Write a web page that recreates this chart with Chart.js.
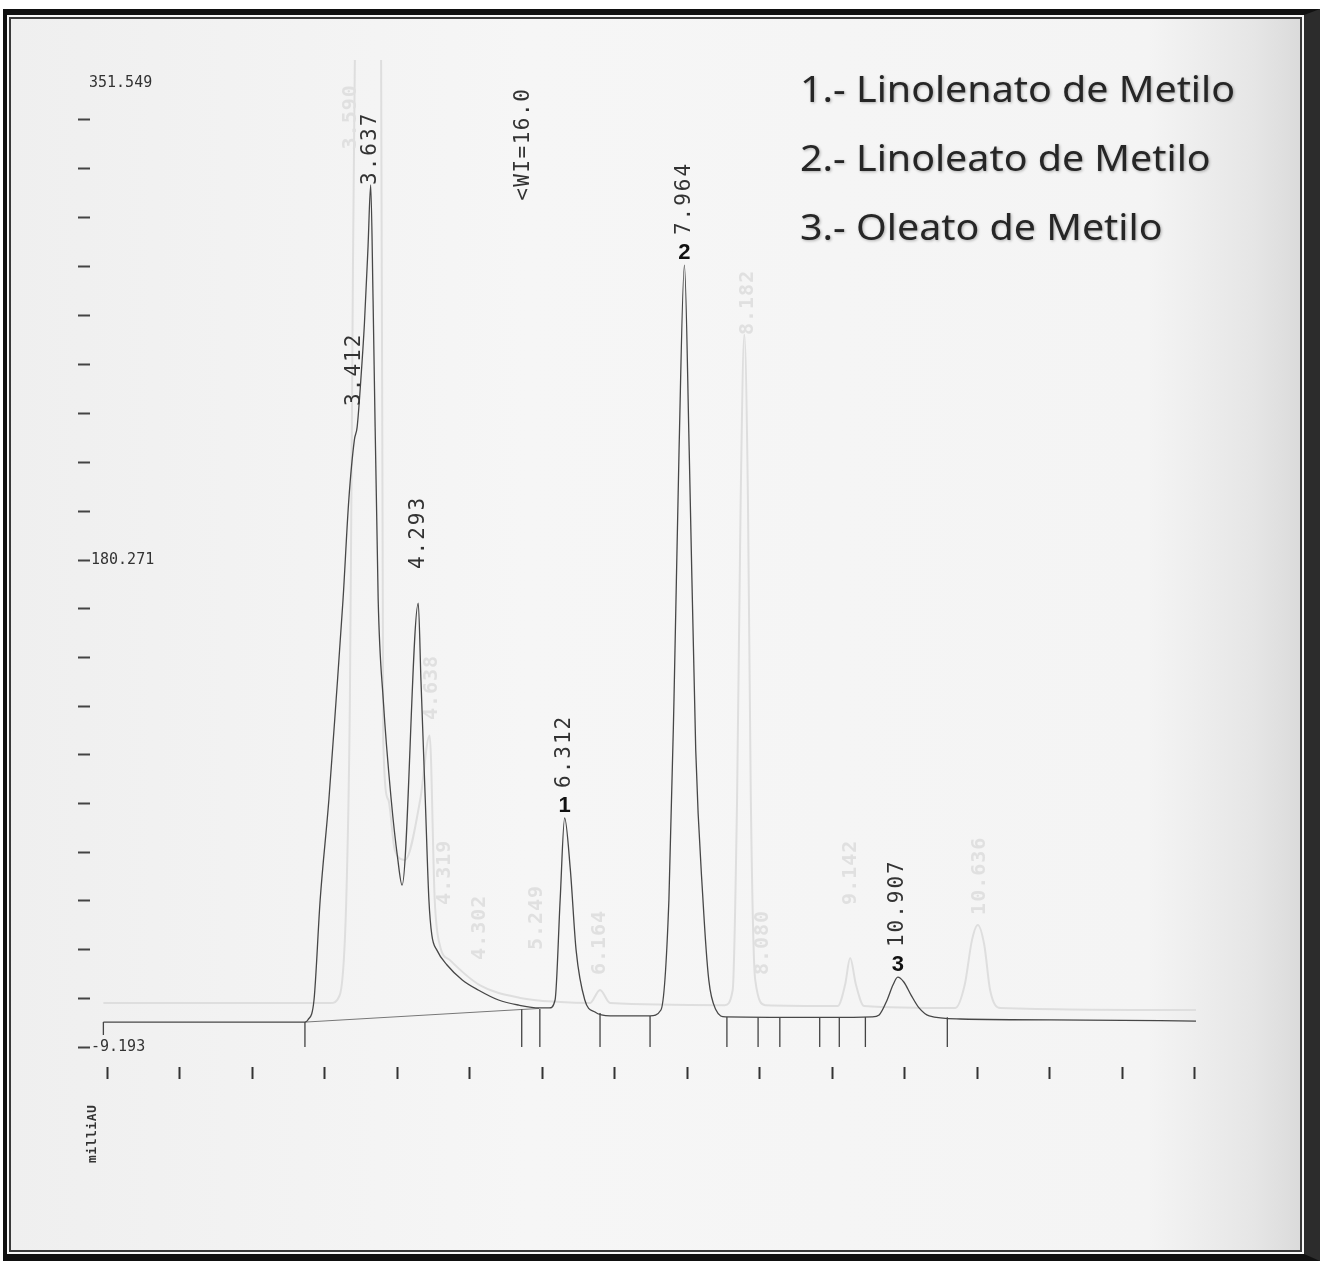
<!DOCTYPE html>
<html>
<head>
<meta charset="utf-8">
<title>Cromatograma - ésteres metílicos</title>
<script src="https://cdn.jsdelivr.net/npm/chart.js@4.4.1/dist/chart.umd.min.js"></script>
<style>
html,body{margin:0;padding:0;background:#fff;width:1321px;height:1263px;overflow:hidden}
#frame{position:absolute;left:3px;top:9px;width:1317px;height:1252px;box-sizing:border-box;
  border:solid #111;border-width:6px 16px 7px 4px;border-right-color:#2c2c2c;
  background:linear-gradient(to right,#efefef 0%,#f6f6f6 40%,#f4f4f4 88%,#e6e6e6 96%,#dadada 100%);
  box-shadow:inset 0 0 0 2px #f8f8f8, inset 0 0 0 4px #3a3a3a}
#c{position:absolute;left:0;top:0}
</style>
</head>
<body>
<div id="frame"></div>
<canvas id="c" width="1321" height="1263"></canvas>
<script>
// time axis in minutes, response in milliAU
const xTicks = [0,1,2,3,4,5,6,7,8,9,10,11,12,13,14,15];
const yTicks = [-9.193, 9.753, 28.700, 47.646, 66.593, 85.539, 104.485, 123.432, 142.378, 161.325,
                180.271, 199.302, 218.333, 237.364, 256.395, 275.426, 294.456, 313.487, 332.518, 351.549];
const yLabeled = [-9.193, 180.271];
const yTop = 351.549;

// main trace
const traceTimes = [-0.05, 2.73, 2.77, 2.855, 2.94, 3.06, 3.16, 3.255, 3.335, 3.412, 3.45, 3.50, 3.55, 3.60, 3.637,
  3.67, 3.74, 3.81, 3.92, 4.01, 4.07, 4.293, 4.33, 4.39, 4.44, 4.48, 4.55, 4.69, 4.90, 5.12, 5.40, 5.68, 5.96,
  6.10, 6.18, 6.25, 6.312, 6.39, 6.47, 6.59, 6.73, 6.94, 7.49, 7.64, 7.75, 7.82, 7.89, 7.964, 8.03, 8.12, 8.22,
  8.30, 8.40, 8.53, 10.0, 10.55, 10.65, 10.76, 10.84, 10.907, 10.99, 11.09, 11.20, 11.34, 11.77, 13.5, 15.02];
const traceLevels = [0.5, 0.5, 1.3, 9.1, 48.0, 86.9, 125.8, 164.7, 203.6, 227.0, 232, 250, 272, 302, 326.2,
  281, 165, 126, 87, 64, 53.8, 163.5, 133.6, 86.9, 48.0, 34.4, 28.5, 22.7, 16.9, 13.0, 9.1, 7.1, 6.0,
  6.0, 9.1, 48.0, 79.9, 60.0, 28.5, 9.1, 4.4, 2.9, 2.9, 5.2, 48.0, 125.8, 223.0, 295.0, 223.0, 106.4, 48.0,
  16.9, 5.2, 2.5, 2.3, 2.5, 3.3, 9.1, 14.9, 18.0, 16.1, 11.0, 6.0, 2.9, 1.7, 1.3, 0.9];

// faint second run showing through the paper
const ghostTimes = [-0.05, 3.08, 3.21, 3.30, 3.35, 3.38, 3.42, 3.60, 3.78, 3.81, 3.88, 3.97, 4.11, 4.32, 4.45,
  4.52, 4.59, 4.73, 5.14, 5.70, 6.25, 6.66, 6.80, 6.94, 8.52, 8.63, 8.69, 8.74, 8.79, 8.84, 8.88, 8.94, 9.08,
  10.08, 10.18, 10.25, 10.33, 10.44, 11.70, 11.83, 11.93, 12.01, 12.10, 12.18, 12.32, 15.02];
const ghostLevels = [7.9, 7.9, 11, 48, 126, 242, 380, 390, 380, 110, 87, 67.4, 63.6, 87, 112,
  48, 30.5, 24.6, 14.9, 9.9, 8.3, 7.9, 13, 7.9, 7.1, 13, 87, 204, 268, 204, 87, 17, 7.1,
  6.8, 15, 25.4, 15, 6.8, 6.0, 15, 32.4, 38.3, 30.5, 13, 6.0, 5.2];
const ghostTags = ['3.590', '4.638', '4.319', '4.302', '5.249', '6.164', '8.182', '8.080', '9.142', '10.636'];
const ghostTagTimes = [3.36, 4.48, 4.66, 5.14, 5.93, 6.80, 8.84, 9.05, 10.26, 12.04];
const ghostTagLevels = [340, 118, 46.1, 24.7, 28.5, 18.8, 267.8, 18.8, 46.1, 42.2];

// integrator baseline and peak start/stop events
const baseTimes = [2.73, 5.96];
const baseLevels = [0.5, 5.8];
const eventTimes = [-0.05, 2.73, 5.72, 5.97, 6.80, 7.49, 8.55, 8.98, 9.28, 9.83, 10.10, 10.46, 11.59];
const eventTops = [0.5, 0.5, 5.5, 5.6, 4.0, 2.9, 2.5, 2.4, 2.3, 2.3, 2.3, 2.5, 2.4];
const eventBottoms = [-4.5, -9.2, -9.2, -9.2, -9.2, -9.2, -9.2, -9.2, -9.2, -9.2, -9.2, -9.2, -9.2];

// integrated peaks
const peakTimes = [3.412, 3.637, 4.293, 6.312, 7.964, 10.907];
const peakLevels = [227.0, 326.2, 163.5, 79.9, 295.0, 18.0];
const peakNums = ['', '', '', '1', '2', '3'];
const wiTime = 5.74, wiLevel = 320, wiText = '<WI=16.0';

const legendLines = ['1.- Linolenato de Metilo', '2.- Linoleato de Metilo', '3.- Oleato de Metilo'];

const pts = (xs, ys) => xs.map((t, i) => ({x: t, y: ys[i]}));
const markerPts = [];
eventTimes.forEach((t, i) => {
  markerPts.push({x: t, y: eventTops[i]}, {x: t, y: eventBottoms[i]}, {x: t, y: null});
});

const MONO = '"DejaVu Sans Mono", monospace';

function upText(ctx, s, px, py, spacing){
  ctx.save();
  ctx.translate(px, py);
  ctx.rotate(-Math.PI / 2);
  ctx.letterSpacing = spacing + 'px';
  ctx.textAlign = 'left';
  ctx.textBaseline = 'middle';
  ctx.fillText(s, 0, 0);
  ctx.restore();
}

const textLayer = {
  id: 'textLayer',
  afterDatasetsDraw(chart){
    const {ctx, scales: {x, y}} = chart;
    ctx.save();

    // labels of the faint run
    ctx.fillStyle = '#e0e0e0';
    ctx.font = 'bold 20px ' + MONO;
    ghostTags.forEach((s, i) => upText(ctx, s, x.getPixelForValue(ghostTagTimes[i]), y.getPixelForValue(ghostTagLevels[i]), 1));

    // retention times over the peaks
    ctx.fillStyle = '#333';
    peakTimes.forEach((t, i) => {
      const px = x.getPixelForValue(t), py = y.getPixelForValue(peakLevels[i]);
      const gap = peakNums[i] ? 30 : (i === 1 ? 0 : 34);
      ctx.font = '21px ' + MONO;
      upText(ctx, t.toFixed(3), px, py - gap, 2);
      if (peakNums[i]){
        ctx.font = 'bold 22px "Liberation Sans", Arial, sans-serif';
        ctx.textAlign = 'center';
        ctx.textBaseline = 'alphabetic';
        ctx.fillStyle = '#111';
        ctx.fillText(peakNums[i], px, py - 6);
        ctx.fillStyle = '#333';
      }
    });
    ctx.font = '21px ' + MONO;
    upText(ctx, wiText, x.getPixelForValue(wiTime), y.getPixelForValue(wiLevel), 1.5);

    // top of the response scale and unit
    ctx.font = '15px ' + MONO;
    ctx.fillStyle = '#333';
    ctx.textAlign = 'left';
    ctx.textBaseline = 'middle';
    ctx.fillText(yTop.toFixed(3), x.left - 1, y.getPixelForValue(yTop) - 37);
    ctx.font = 'bold 13px ' + MONO;
    upText(ctx, 'milliAU', x.left + 3, 1163, 0.5);

    // compound key
    ctx.font = '37px "Noto Sans", sans-serif';
    ctx.textAlign = 'left';
    ctx.textBaseline = 'alphabetic';
    const sx = 435 / ctx.measureText(legendLines[0]).width;
    legendLines.forEach((s, i) => {
      ctx.save();
      ctx.translate(800, 102 + i * 69);
      ctx.scale(sx, 1);
      ctx.shadowColor = 'rgba(0,0,0,0.3)';
      ctx.shadowBlur = 3;
      ctx.shadowOffsetX = 1;
      ctx.shadowOffsetY = 1;
      ctx.fillStyle = '#262626';
      ctx.fillText(s, 0, 0);
      ctx.restore();
    });
    ctx.restore();
  }
};

new Chart(document.getElementById('c'), {
  type: 'line',
  data: {
    datasets: [
      {data: pts(traceTimes, traceLevels), borderColor: '#474747', borderWidth: 1.3, cubicInterpolationMode: 'monotone'},
      {data: markerPts, borderColor: '#444', borderWidth: 1.3, spanGaps: false},
      {data: pts(baseTimes, baseLevels), borderColor: '#777', borderWidth: 1},
      {data: pts(ghostTimes, ghostLevels), borderColor: '#dedede', borderWidth: 2, cubicInterpolationMode: 'monotone'}
    ]
  },
  options: {
    responsive: false,
    animation: false,
    events: [],
    layout: {padding: {left: 0, top: 60, right: 125, bottom: 184}},
    elements: {point: {radius: 0}, line: {tension: 0}},
    plugins: {legend: {display: false}, tooltip: {enabled: false}},
    scales: {
      x: {
        type: 'linear',
        min: -0.2345,
        max: 15.02,
        afterBuildTicks: s => { s.ticks = xTicks.map(v => ({value: v})); },
        afterFit: s => { s.height = 12; },
        ticks: {display: false},
        border: {display: false},
        grid: {drawOnChartArea: false, drawTicks: true, tickLength: 12, tickColor: '#333', tickWidth: 2}
      },
      y: {
        type: 'linear',
        min: -16.97,
        max: 374.8,
        afterBuildTicks: s => { s.ticks = yTicks.map(v => ({value: v})); },
        afterFit: s => { s.width = 90; },
        ticks: {
          mirror: true,
          padding: 1,
          autoSkip: false,
          color: '#333',
          font: {family: 'DejaVu Sans Mono', size: 15},
          callback: v => yLabeled.some(l => Math.abs(l - v) < 1e-6) ? v.toFixed(3) : ''
        },
        border: {display: false},
        grid: {drawOnChartArea: false, drawTicks: true, tickLength: 12, tickColor: '#444', tickWidth: 2}
      }
    }
  },
  plugins: [textLayer]
});
</script>
</body>
</html>
